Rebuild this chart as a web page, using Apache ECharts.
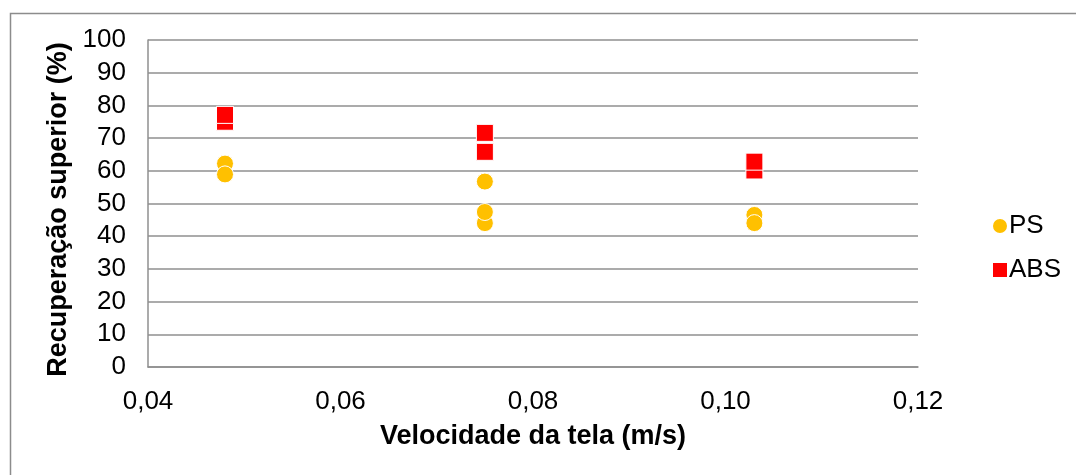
<!DOCTYPE html>
<html>
<head>
<meta charset="utf-8">
<style>
  html, body { margin: 0; padding: 0; background: #ffffff; }
  #chart { width: 1076px; height: 475px; }
</style>
<script src="https://cdn.jsdelivr.net/npm/echarts@6/dist/echarts.min.js"></script>
</head>
<body>
<div id="chart"></div>
<script>
// Screen speed (m/s) vs. top-fraction recovery (%) for two plastics
const seriesNames = ['PS', 'ABS'];
const psPoints = [
  [0.048, 62.2], [0.048, 58.9],
  [0.075, 56.7], [0.075, 44.0], [0.075, 47.4],
  [0.103, 46.5], [0.103, 44.0]
];
const absPoints = [
  [0.048, 75.0], [0.048, 77.1],
  [0.075, 71.6], [0.075, 65.8],
  [0.103, 60.1], [0.103, 62.8]
];
const xTitle = 'Velocidade da tela (m/s)';
const yTitle = 'Recuperação superior (%)';

const FONT = '"Liberation Sans", Arial, sans-serif';
const GRID_GREY = '#8f8f8f';

const chart = echarts.init(document.getElementById('chart'), null, { renderer: 'canvas' });

chart.setOption({
  animation: false,
  backgroundColor: '#ffffff',
  textStyle: { fontFamily: FONT, color: '#000' },
  graphic: [{
    type: 'rect',
    left: 8,
    top: 11,
    shape: { x: 0, y: 0, width: 1200, height: 600 },
    style: { fill: 'none', stroke: '#8c8c8c', lineWidth: 1.5 },
    silent: true
  }],
  grid: { left: 148, right: 158, top: 40, bottom: 108, containLabel: false },
  xAxis: {
    type: 'value',
    min: 0.04,
    max: 0.12,
    interval: 0.02,
    name: xTitle,
    nameLocation: 'middle',
    nameGap: 56,
    nameTextStyle: { fontFamily: FONT, fontSize: 27, fontWeight: 'bold', color: '#000' },
    axisLine: { show: true, lineStyle: { color: GRID_GREY, width: 1.5 } },
    axisTick: { show: false },
    axisLabel: {
      fontFamily: FONT, fontSize: 26, color: '#000', margin: 22,
      formatter: v => v.toFixed(2).replace('.', ',')
    },
    splitLine: { show: false }
  },
  yAxis: {
    type: 'value',
    min: 0,
    max: 100,
    interval: 10,
    name: yTitle,
    nameLocation: 'middle',
    nameGap: 76,
    nameTextStyle: {
      fontFamily: FONT, fontSize: 27, fontWeight: 'bold', color: '#000',
      padding: [0, 12, 0, 0]
    },
    axisLine: { show: true, lineStyle: { color: GRID_GREY, width: 1.5 } },
    axisTick: { show: false },
    axisLabel: { fontFamily: FONT, fontSize: 26, color: '#000', margin: 22 },
    splitLine: { show: true, lineStyle: { color: GRID_GREY, width: 1.5 } }
  },
  legend: {
    orient: 'vertical',
    left: 986,
    top: 208,
    itemWidth: 16,
    itemHeight: 16,
    itemGap: 18,
    textStyle: { fontFamily: FONT, fontSize: 26, color: '#000', padding: [0, 0, 0, -4] },
    data: [
      { name: seriesNames[0], icon: 'circle' },
      { name: seriesNames[1], icon: 'rect' }
    ]
  },
  series: [
    {
      name: seriesNames[0],
      type: 'scatter',
      data: psPoints,
      symbol: 'circle',
      symbolSize: 17,
      itemStyle: { color: '#FFC000', opacity: 1, borderColor: '#ffffff', borderWidth: 1 }
    },
    {
      name: seriesNames[1],
      type: 'scatter',
      data: absPoints,
      symbol: 'rect',
      symbolSize: 17,
      itemStyle: { color: '#FF0000', opacity: 1, borderColor: '#ffffff', borderWidth: 1 }
    }
  ]
});
</script>
</body>
</html>
